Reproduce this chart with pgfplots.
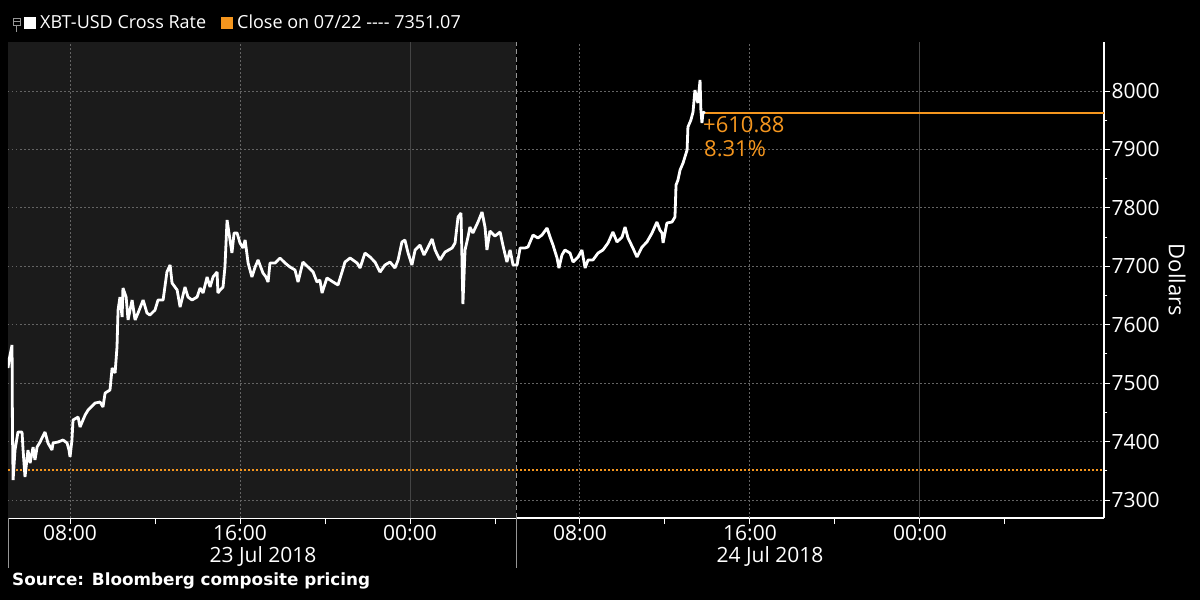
\documentclass[border=0pt]{standalone}
\usepackage{pgfplots}
\pgfplotsset{compat=1.18}
\usepackage{pgfplotstable}
\usepackage{fontspec}
\setmainfont{Open Sans}
\newfontfamily\srcfont{DejaVu Sans}
\definecolor{shadec}{RGB}{27,27,27}
\definecolor{bborange}{RGB}{245,150,30}
\definecolor{gridc}{RGB}{100,100,100}
\definecolor{lightg}{RGB}{150,150,150}

\pgfplotstableread{
h v
5.08 7525.9
5.13 7539.6
5.27 7565.3
5.29 7419.8
5.32 7334.2
5.41 7385.6
5.55 7416.4
5.74 7416.4
5.79 7385.6
5.88 7339.4
6.02 7385.6
6.12 7363.3
6.26 7390.7
6.35 7368.5
6.45 7390.7
6.59 7399.3
6.82 7416.4
6.96 7397.6
7.15 7385.6
7.20 7397.6
7.44 7399.3
7.67 7402.7
7.86 7397.6
7.95 7385.6
8.00 7373.6
8.09 7402.7
8.14 7436.9
8.38 7442.0
8.47 7424.9
8.71 7445.5
8.85 7454.0
9.18 7466.0
9.41 7467.7
9.55 7459.2
9.65 7483.1
9.88 7488.3
9.98 7525.9
10.12 7517.4
10.21 7561.9
10.26 7625.2
10.35 7647.4
10.45 7613.2
10.49 7662.8
10.64 7647.4
10.73 7608.1
10.92 7642.3
11.06 7608.1
11.20 7620.0
11.44 7642.3
11.62 7620.0
11.76 7616.6
12.00 7625.2
12.14 7642.3
12.38 7642.3
12.56 7690.2
12.71 7702.2
12.80 7671.4
13.04 7659.4
13.18 7630.3
13.41 7664.5
13.55 7647.4
13.74 7642.3
13.98 7647.4
14.12 7662.8
14.26 7654.3
14.45 7681.7
14.59 7664.5
14.73 7681.7
14.92 7690.2
14.96 7654.3
15.06 7659.4
15.20 7664.5
15.29 7698.8
15.39 7779.2
15.48 7757.0
15.62 7722.7
15.72 7757.0
15.86 7757.0
16.00 7739.9
16.14 7731.3
16.24 7745.0
16.38 7705.6
16.56 7681.7
16.71 7698.8
16.85 7710.8
17.08 7688.5
17.22 7681.7
17.32 7673.1
17.41 7705.6
17.65 7705.6
17.88 7714.2
18.12 7705.6
18.35 7698.8
18.59 7693.6
18.73 7673.1
18.96 7707.3
19.20 7698.8
19.44 7690.2
19.62 7673.1
19.76 7676.5
19.86 7654.3
20.09 7680.0
20.38 7673.1
20.61 7668.0
20.80 7690.2
20.94 7707.3
21.18 7714.2
21.51 7705.6
21.65 7697.1
21.88 7722.7
22.12 7715.9
22.35 7707.3
22.59 7690.2
22.82 7702.2
23.06 7707.3
23.29 7697.1
23.44 7710.8
23.62 7741.6
23.76 7745.0
23.91 7722.7
24.09 7702.2
24.24 7727.9
24.47 7736.4
24.66 7719.3
24.85 7733.0
25.04 7746.7
25.18 7727.9
25.41 7710.8
25.65 7724.4
25.98 7731.3
26.12 7739.9
26.26 7784.4
26.40 7791.2
26.49 7635.4
26.59 7727.9
26.73 7750.1
26.82 7767.2
26.96 7757.0
27.20 7775.8
27.39 7792.9
27.53 7767.2
27.62 7727.9
27.76 7760.4
28.00 7751.8
28.24 7758.7
28.38 7734.7
28.56 7707.3
28.71 7727.9
28.85 7702.2
29.04 7702.2
29.18 7731.3
29.41 7731.3
29.55 7733.0
29.79 7753.5
30.02 7748.4
30.21 7753.5
30.45 7765.5
30.59 7750.1
30.73 7736.4
30.92 7714.2
31.01 7697.1
31.15 7719.3
31.29 7727.9
31.53 7722.7
31.67 7707.3
31.91 7715.9
32.09 7727.9
32.24 7697.1
32.38 7710.8
32.61 7710.8
32.85 7722.7
33.08 7727.9
33.32 7739.9
33.55 7758.7
33.74 7741.6
33.98 7750.1
34.12 7767.2
34.26 7748.4
34.49 7731.3
34.68 7715.9
34.92 7733.0
35.15 7741.6
35.39 7757.0
35.62 7775.8
35.76 7762.1
35.86 7757.0
35.91 7739.9
36.09 7774.1
36.33 7775.8
36.47 7784.4
36.52 7839.1
36.61 7847.7
36.71 7864.8
36.85 7876.8
37.04 7899.0
37.08 7938.4
37.22 7950.4
37.32 7964.1
37.41 8001.7
37.51 7984.6
37.55 7979.5
37.65 8018.8
37.69 7967.5
37.74 7945.2
37.79 7964.1
37.88 7961.95
}\xbt

\pgfplotstableread{
h v
37.88 7961.95
56.66 7961.95
}\chg

\pgfplotstableread{
h v
5.08 7351.07
56.66 7351.07
}\prevclose

\begin{document}
\begin{tikzpicture}
\useasboundingbox (0pt,0pt) rectangle (1200pt,600pt);
\fill[black] (0pt,0pt) rectangle (1200pt,600pt);
\begin{axis}[
  at={(8pt,82pt)}, anchor=south west,
  scale only axis, width=1096pt, height=476pt,
  xmin=5.08, xmax=56.66, ymin=7269.2, ymax=8083.9,
  axis x line=bottom, axis y line=right,
  axis line style={-, white, line width=1.2pt},
  tick align=outside,
  major tick length=6pt, minor tick length=3.5pt,
  tick style={white, line width=1pt},
  xtick={8,12,...,52},
  xticklabels={08:00,,16:00,,00:00,,08:00,,16:00,,00:00,{}},
  ytick={7300,7400,...,8000},
  minor y tick num=1,
  /pgf/number format/assume math mode=true,
  /pgf/number format/1000 sep={},
  ticklabel style={text=white, font=\fontsize{21}{25}\selectfont},
  yticklabel style={anchor=west, xshift=-2pt},
  xticklabel style={yshift=2pt},
]
\fill[shadec] (axis cs:5.08,7269.2) rectangle (axis cs:29,8083.9);
\pgfplotsinvokeforeach{7300,7400,7500,7600,7700,7800,7900,8000}{
  \draw[gridc, line width=1pt, dash pattern=on 1.5pt off 2.5pt] (axis cs:5.08,#1) -- (axis cs:56.66,#1);
}
\pgfplotsinvokeforeach{8,16,32,40}{
  \draw[gridc, line width=1pt, dash pattern=on 1.5pt off 2.5pt] (axis cs:#1,7269.2) -- (axis cs:#1,8083.9);
}
\pgfplotsinvokeforeach{24,48}{
  \draw[gridc!120, line width=1pt] (axis cs:#1,7269.2) -- (axis cs:#1,8083.9);
}
\draw[lightg, line width=1pt, dash pattern=on 5pt off 3pt] (axis cs:29,7269.2) -- (axis cs:29,8083.9);
\addplot[color=bborange, line width=1.8pt, dash pattern=on 1.8pt off 2.2pt, mark=none] table[x=h, y=v] {\prevclose};
\addplot[draw=bborange, line width=2pt, mark=none] table[x=h, y=v] {\chg};
\addplot[white, line width=2.8pt, line join=bevel, mark=none] table[x=h, y=v] {\xbt};
\end{axis}
% lines below axis
\draw[lightg, line width=1pt] (8pt,82pt) -- (8pt,32pt);
\draw[lightg, line width=1pt] (516pt,82pt) -- (516pt,32pt);
% date labels
\node[text=white, font=\fontsize{21}{25}\selectfont] at (263pt,44pt) {23 Jul 2018};
\node[text=white, font=\fontsize{21}{25}\selectfont] at (770pt,44pt) {24 Jul 2018};
% y label
\node[text=white, rotate=-90, font=\fontsize{22}{26}\selectfont] at (1177pt,320pt) {Dollars};
% annotation
\node[anchor=base west, inner sep=0pt, text=bborange, font=\fontsize{22}{26}\selectfont] at (703pt,467pt) {+610.88};
\node[anchor=base west, inner sep=0pt, text=bborange, font=\fontsize{22}{26}\selectfont] at (704pt,443pt) {8.31\%};
% legend
\draw[lightg, line width=0.8pt] (13pt,582pt) rectangle (20pt,575pt);
\draw[lightg, line width=0.8pt] (13pt,578.5pt) -- (20pt,578.5pt);
\draw[lightg, line width=0.8pt] (16.5pt,575pt) -- (16.5pt,568pt);
\fill[white] (24pt,571pt) rectangle (36pt,583pt);
\node[anchor=base west, inner sep=0pt, text=white, font=\fontsize{18}{21}\selectfont] at (40pt,571pt) {XBT-USD Cross Rate};
\fill[bborange] (221pt,571pt) rectangle (233pt,583pt);
\node[anchor=base west, inner sep=0pt, text=white, font=\fontsize{18}{21}\selectfont] at (237pt,571pt) {Close on 07/22 -{}-{}-{}- 7351.07};
% source
\node[anchor=base west, inner sep=0pt, text=white, font=\srcfont\bfseries\fontsize{16.8}{20}\selectfont] at (12pt,14pt) {Source: Bloomberg composite pricing};
\end{tikzpicture}
\end{document}
